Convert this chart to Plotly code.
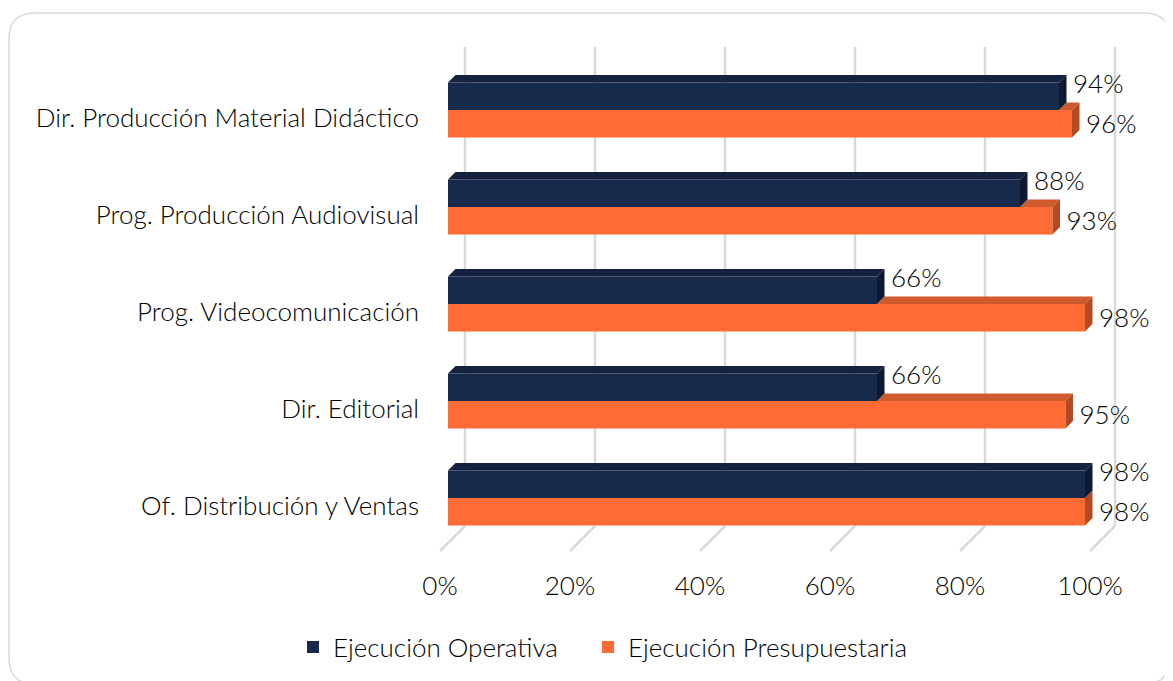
import plotly.graph_objects as go

# ---------------- data ----------------
categories = [
    "Dir. Producción Material Didáctico",
    "Prog. Producción Audiovisual",
    "Prog. Videocomunicación",
    "Dir. Editorial",
    "Of. Distribución y Ventas",
]
operativa = [94, 88, 66, 66, 98]
presupuestaria = [96, 93, 98, 95, 98]
x_ticks = [0, 20, 40, 60, 80, 100]
x_tick_labels = ["0%", "20%", "40%", "60%", "80%", "100%"]
series_names = ["Ejecución Operativa", "Ejecución Presupuestaria"]

# ---------------- geometry (pixels, in window coordinates) ----------------
W, H = 1173, 681
BODY = 8                       # default page body margin
L, R, T, B = 430, 1130, 40, 560
PX_PER_PCT = 6.5
BAR0_PX = 448
TOP_GROUP_PX = 110
GROUP_STEP = 97

xa = (L - BAR0_PX) / PX_PER_PCT
xb = (R - BAR0_PX) / PX_PER_PCT
n = len(categories)
def p_of(py):
    return (TOP_GROUP_PX + (n - 1) * GROUP_STEP - py) / GROUP_STEP
ya, yb = p_of(B), p_of(T)

bw = 27.5 / GROUP_STEP
dx = 7.5 / PX_PER_PCT
dy = 7.5 / GROUP_STEP
front_off = -8 / PX_PER_PCT
back_off = 17 / PX_PER_PCT

pos = [n - 1 - i for i in range(n)]

NAVY = "#172a4c"
NAVY_TOP = "#14223f"
NAVY_SIDE = "#0f1a31"
ORANGE = "#ff6b35"
ORANGE_TOP = "#cf5a2e"
ORANGE_SIDE = "#b44a24"
TXT = "#000000"
FONT = "Lato"
FS = 26
FW = 300
tf = dict(family=FONT, size=FS, color=TXT, weight=FW)

fig = go.Figure()

fig.add_trace(go.Bar(y=pos, x=operativa, orientation="h", width=bw, offset=0,
                     marker=dict(color=NAVY, line=dict(width=0)),
                     name=series_names[0], hoverinfo="skip", legend="legend"))
fig.add_trace(go.Bar(y=pos, x=presupuestaria, orientation="h", width=bw, offset=-bw,
                     marker=dict(color=ORANGE, line=dict(width=0)),
                     name=series_names[1], hoverinfo="skip", legend="legend2"))

def poly(xs, ys, color):
    fig.add_trace(go.Scatter(x=xs + [xs[0]], y=ys + [ys[0]], mode="lines", fill="toself",
                             fillcolor=color, line=dict(width=0, color=color),
                             showlegend=False, hoverinfo="skip"))

for p, vo, vp in zip(pos, operativa, presupuestaria):
    if vp > vo:
        poly([vo, vp, vp + dx, vo + dx], [p, p, p + dy, p + dy], ORANGE_TOP)
    poly([vp, vp, vp + dx, vp + dx], [p - bw, p, p + dy, p - bw + dy], ORANGE_SIDE)
    poly([0, vo, vo + dx, dx], [p + bw, p + bw, p + bw + dy, p + bw + dy], NAVY_TOP)
    poly([vo, vo, vo + dx, vo + dx], [p, p + bw, p + bw + dy, p + dy], NAVY_SIDE)

lab_dx = 14 / PX_PER_PCT
fig.add_trace(go.Scatter(x=[v + lab_dx for v in operativa], y=[p + 24 / GROUP_STEP for p in pos],
                         mode="text", text=[f"{v}%" for v in operativa], textposition="middle right",
                         textfont=tf, cliponaxis=False, showlegend=False, hoverinfo="skip"))
fig.add_trace(go.Scatter(x=[v + lab_dx for v in presupuestaria], y=[p - 16 / GROUP_STEP for p in pos],
                         mode="text", text=[f"{v}%" for v in presupuestaria], textposition="middle right",
                         textfont=tf, cliponaxis=False, showlegend=False, hoverinfo="skip"))

shapes = []
GRID = "#d9d9d9"
yf, ybk, ytop = p_of(551), p_of(526), p_of(47)
for t in x_ticks:
    shapes.append(dict(type="line", xref="x", yref="y", x0=t + front_off, y0=yf,
                       x1=t + back_off, y1=ybk, line=dict(color=GRID, width=2.5), layer="below"))
    shapes.append(dict(type="line", xref="x", yref="y", x0=t + back_off, y0=ybk,
                       x1=t + back_off, y1=ytop, line=dict(color=GRID, width=2.5), layer="below"))

def P(px, py):
    x, y = (px - L) / (R - L), (B - py) / (B - T)
    return f"{x:.5f},{y:.5f}"
bx0, by0, bx1, by1, r = 9, 13, 1170, 684, 26
path = (f"M {P(bx0 + r, by0)} L {P(bx1 - r, by0)} Q {P(bx1, by0)} {P(bx1, by0 + r)} "
        f"L {P(bx1, by1 - r)} Q {P(bx1, by1)} {P(bx1 - r, by1)} "
        f"L {P(bx0 + r, by1)} Q {P(bx0, by1)} {P(bx0, by1 - r)} "
        f"L {P(bx0, by0 + r)} Q {P(bx0, by0)} {P(bx0 + r, by0)} Z")
shapes.append(dict(type="path", xref="paper", yref="paper", path=path,
                   line=dict(color="#d9d9d9", width=1.5), layer="below"))

FW_PX, FH_PX = W - BODY, H - BODY
leg_y = 1 - (647 - BODY) / FH_PX
def leg(left_px):
    return dict(orientation="h", xref="container", yref="container",
                x=(left_px - BODY) / FW_PX, y=leg_y, xanchor="left", yanchor="middle",
                font=tf, itemwidth=30, bgcolor="rgba(0,0,0,0)")

fig.update_layout(
    width=FW_PX, height=FH_PX,
    margin=dict(l=L - BODY, r=W - R, t=T - BODY, b=H - B, autoexpand=False),
    paper_bgcolor="white", plot_bgcolor="white",
    barmode="overlay",
    shapes=shapes,
    font=tf,
    xaxis=dict(range=[xa, xb], showgrid=False, zeroline=False, showline=False,
               tickvals=[t + front_off for t in x_ticks], ticktext=x_tick_labels,
               ticks="", ticklabelstandoff=8, tickfont=tf),
    yaxis=dict(range=[ya, yb], showgrid=False, zeroline=False, showline=False,
               tickvals=[p - 8 / GROUP_STEP for p in pos], ticktext=categories,
               ticks="", ticklabelstandoff=10, tickfont=tf),
    legend=leg(293),
    legend2=leg(588),
)

fig.write_html("out.html")
